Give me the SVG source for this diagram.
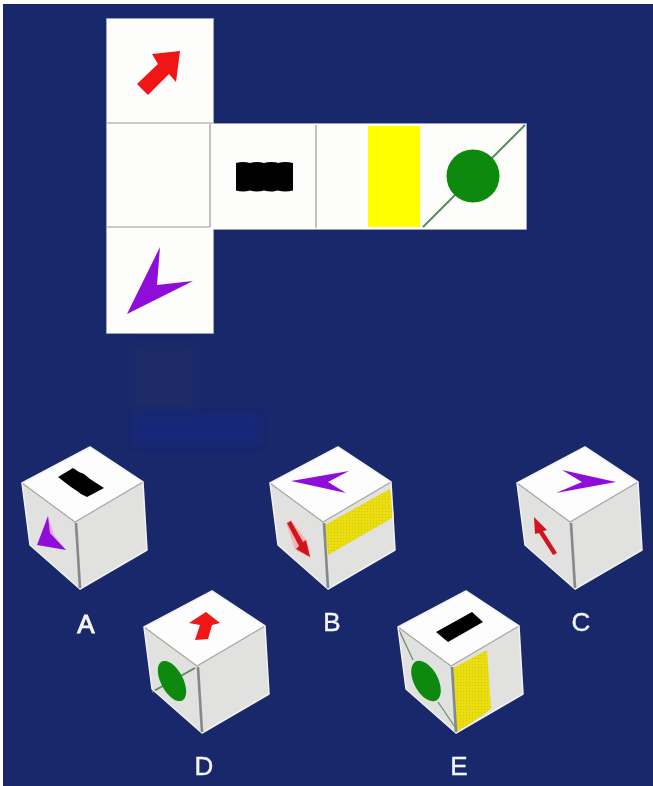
<svg xmlns="http://www.w3.org/2000/svg" width="653" height="786" viewBox="0 0 653 786">
<style>
.face{fill:#fdfdfb}
.sep{stroke:#9a9a98;stroke-width:1.2;fill:none}
.outline{fill:none;stroke:#c6c9de;stroke-width:1.6}
.side{fill:#e1e1df}
.top{fill:#fdfdfd}
.thin{stroke:#a9a9a5;stroke-width:1.2;fill:none}
.rim{stroke:#f2f2f0;stroke-width:1.5;fill:none;stroke-linejoin:round}
.spine{stroke:#85888a;stroke-width:2.6;fill:none}
.red{fill:#f01212}
.dred{fill:#d0141c}
.halo{fill:#f7b4b4}
.pur{fill:#8f10d8}
.pink{fill:#e9a8ee}
.blk{fill:#000}
.grn{fill:#078a0a}
.yel{fill:#ffff00}
.ydot{fill:url(#dots)}
.gline{stroke:#5f8a5f;stroke-width:2;fill:none}
.lab{font-family:"Liberation Sans",Arial,sans-serif;font-size:26px;fill:#f4f6fa;stroke:#f4f6fa;stroke-width:0.4;text-anchor:middle}
</style>
<defs>
<filter id="soft" x="-5%" y="-5%" width="110%" height="110%"><feGaussianBlur stdDeviation="0.55"/></filter>
<filter id="patch" x="-30%" y="-30%" width="160%" height="160%"><feGaussianBlur stdDeviation="4"/></filter>
<pattern id="dots" width="3" height="3" patternUnits="userSpaceOnUse"><rect width="3" height="3" fill="#eade0c"/><rect x="1" y="1" width="1" height="1" fill="#cfc32a"/></pattern>
<g id="cube">
<path class="top" d="M90 447L22 483L75 522L143 482Z"/>
<path class="side" d="M22 483L75 522L80 589L30 545Z"/>
<path class="side" d="M75 522L143 482L147 550L80 589Z"/>
<path class="thin" d="M22 483L75 522L143 482"/>
</g>
<g id="cubeedge">
<path class="rim" d="M22 483L90 447L143 482L147 550L80 589L30 545Z"/>
<path class="spine" d="M76 523L80 588"/>
</g>
</defs>
<rect width="653" height="786" fill="#ffffff"/>
<rect x="3" y="4" width="650" height="782" fill="#19276b"/>
<g filter="url(#patch)">
<rect x="133" y="345" width="62" height="65" fill="#1b2a66"/>
<rect x="135" y="415" width="125" height="30" fill="#152779"/>
</g>
<g filter="url(#soft)">
<path class="outline" d="M107 19H213V124H526V229H213V333H107Z"/>
<g id="net-top"><rect class="face" x="107" y="19" width="106" height="104"/>
<path class="red" d="M180 51L152 54L158 64L137 84L148 95L169 74L176 82Z"/></g>
<g id="net-blank"><rect class="face" x="107" y="123" width="106" height="105"/>
<path class="sep" d="M107 123H213M210 124V227M107 227H210"/></g>
<g id="net-bottom"><rect class="face" x="107" y="228" width="106" height="105"/>
<path class="pur" d="M127 314L160 247L157 285L193 281Z"/></g>
<g id="net-black"><rect class="face" x="213" y="124" width="102" height="105"/>
<path class="blk" d="M236 163Q243 161 250 163Q257 161 264 163Q271 161 278 163Q285 161 293 163V190.500Q285 192.500 278 190.500Q271 192.500 264 190.500Q257 192.500 250 190.500Q243 192.500 236 190.500Z"/></g>
<g id="net-yellow"><rect class="face" x="315" y="124" width="106" height="105"/>
<rect class="yel" x="368" y="126" width="52" height="101"/>
<path class="sep" d="M316 125V228"/></g>
<g id="net-green"><rect class="face" x="421" y="124" width="105" height="105"/>
<path class="gline" d="M423 227L525 125"/>
<circle class="grn" cx="473" cy="176" r="26.5"/></g>
<g id="cube-a"><use href="#cube"/>
<path class="blk" d="M58 477L73 468L79 472L84 474L90 479L104 488L87 497L81 494L77 491L71 487Z"/>
<path class="pink" d="M48 516L54 535L66 550L50 533Z"/>
<path class="pur" d="M48 516L37 545L66 550L50 533Z"/>
<use href="#cubeedge"/></g>
<g id="cube-b"><use href="#cube" transform="translate(248 0)"/>
<path class="pur" d="M291 481L349 471L328 482L346 493Z"/>
<path class="ydot" d="M325 525L390 489L394 517L328 555Z"/>
<path class="halo" d="M286 523L291 520L307 541L311 558L295 550Z"/>
<path class="dred" d="M287 523L291 521L303 542L306 540L310 557L296 549L299 546Z"/>
<use href="#cubeedge" transform="translate(248 0)"/></g>
<g id="cube-c"><use href="#cube" transform="translate(495 0)"/>
<path class="pur" d="M616 482L562 470L582 482L556 493Z"/>
<path class="dred" d="M534 517L547 530L543 531L557 553L553 555L539 533L535 534Z"/>
<use href="#cubeedge" transform="translate(495 0)"/></g>
<g id="cube-d"><use href="#cube" transform="translate(122 144)"/>
<path class="gline" d="M152 692L195 668"/>
<ellipse class="grn" cx="172" cy="681" rx="22" ry="11" transform="rotate(62 172 681)"/>
<path class="red" d="M206 612L220 623L212 625L208 639L195 640L200 625L189 623Z"/>
<use href="#cubeedge" transform="translate(122 144)"/></g>
<g id="cube-e"><use href="#cube" transform="translate(376 144)"/>
<path class="blk" d="M436 632L472 612L483 622L448 642Z"/>
<path class="gline" style="stroke-width:1.3;stroke:#6d8f6d" d="M399 630L413 660M438 702L455 727"/>
<ellipse class="grn" cx="426" cy="681" rx="22" ry="12" transform="rotate(62 426 681)"/>
<path class="ydot" d="M453 668L487 650L491 709L457 733Z"/>
<use href="#cubeedge" transform="translate(376 144)"/></g>
</g>
<g id="labels">
<text class="lab" x="86" y="633" style="stroke-width:0.9">A</text>
<text class="lab" x="332" y="631">B</text>
<text class="lab" x="581" y="631">C</text>
<text class="lab" x="204" y="775">D</text>
<text class="lab" x="459" y="775">E</text>
</g>
</svg>
